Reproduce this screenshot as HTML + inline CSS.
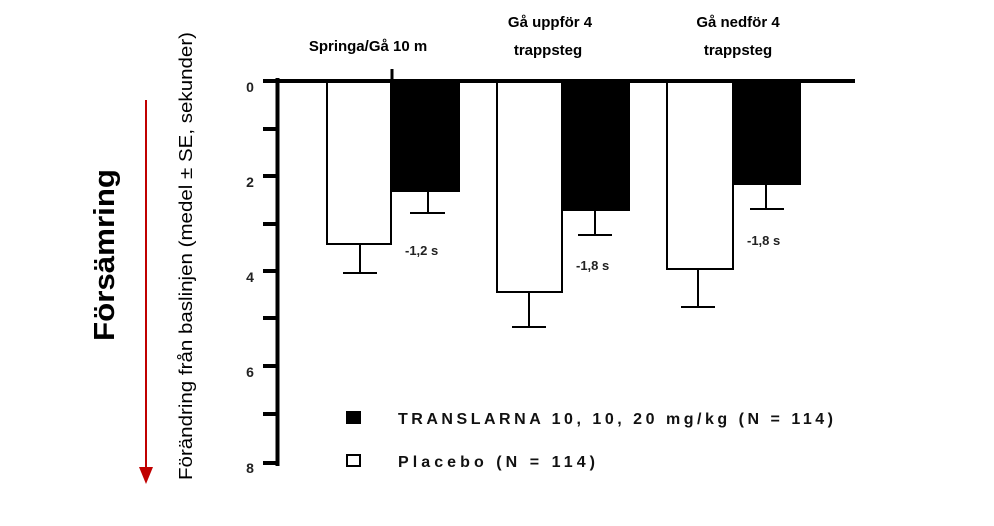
<!DOCTYPE html>
<html><head><meta charset="utf-8"><style>
body{margin:0;background:#fff;width:994px;height:521px;overflow:hidden}
svg text{font-family:"Liberation Sans",sans-serif}
</style></head><body>
<svg width="994" height="521" viewBox="0 0 994 521">
<line x1="146" y1="100" x2="146" y2="468" stroke="#c00000" stroke-width="2"/>
<polygon points="139,467 153,467 146,484" fill="#c00000"/>
<text transform="translate(114,255) rotate(-90)" text-anchor="middle" font-size="29" font-weight="bold" textLength="172" lengthAdjust="spacingAndGlyphs">Försämring</text>
<text transform="translate(192,256) rotate(-90)" text-anchor="middle" font-size="18" textLength="448" lengthAdjust="spacingAndGlyphs">Förändring från baslinjen (medel ± SE, sekunder)</text>
<g stroke="#000" stroke-width="2">
<rect x="327" y="82" width="64" height="162" fill="#fff"/>
<rect x="391" y="82" width="68" height="109" fill="#000"/>
<rect x="497" y="82" width="65" height="210" fill="#fff"/>
<rect x="562" y="82" width="67" height="128" fill="#000"/>
<rect x="667" y="82" width="66" height="187" fill="#fff"/>
<rect x="733" y="82" width="67" height="102" fill="#000"/>
<path d="M360 244V273M343 273H377M428 191V213M410 213H445M529 292V327M512 327H546M595 210V235M578 235H612M698 269V307M681 307H715M766 184V209M750 209H784" fill="none"/>
</g>
<line x1="277.5" y1="78" x2="277.5" y2="466" stroke="#000" stroke-width="4"/>
<line x1="263" y1="81" x2="855" y2="81" stroke="#000" stroke-width="4"/>
<line x1="392" y1="69" x2="392" y2="81" stroke="#000" stroke-width="3"/>
<g stroke="#000" stroke-width="4">
<line x1="263" y1="129" x2="277" y2="129"/><line x1="263" y1="176" x2="277" y2="176"/>
<line x1="263" y1="224" x2="277" y2="224"/><line x1="263" y1="271" x2="277" y2="271"/>
<line x1="263" y1="318" x2="277" y2="318"/><line x1="263" y1="366" x2="277" y2="366"/>
<line x1="263" y1="414" x2="277" y2="414"/><line x1="263" y1="463" x2="277" y2="463"/>
</g>
<g font-size="14" font-weight="bold" text-anchor="middle" fill="#222">
<text x="250" y="92">0</text><text x="250" y="187">2</text><text x="250" y="282">4</text>
<text x="250" y="377">6</text><text x="250" y="473">8</text>
</g>
<g font-size="15" font-weight="bold" text-anchor="middle">
<text x="368" y="51">Springa/Gå 10 m</text>
<text x="550" y="27">Gå uppför 4</text><text x="548" y="55">trappsteg</text>
<text x="738" y="27">Gå nedför 4</text><text x="738" y="55">trappsteg</text>
</g>
<g font-size="13" font-weight="bold" fill="#222">
<text x="405" y="255">-1,2 s</text><text x="576" y="270">-1,8 s</text><text x="747" y="245">-1,8 s</text>
</g>
<rect x="346" y="411" width="15" height="13" fill="#000"/>
<rect x="347" y="455" width="13" height="11" fill="#fff" stroke="#000" stroke-width="2"/>
<g font-size="16" font-weight="bold" fill="#111">
<text x="398" y="424" textLength="435" lengthAdjust="spacing">TRANSLARNA 10, 10, 20 mg/kg (N = 114)</text>
<text x="398" y="467" textLength="197" lengthAdjust="spacing">Placebo (N = 114)</text>
</g>
</svg>
</body></html>
